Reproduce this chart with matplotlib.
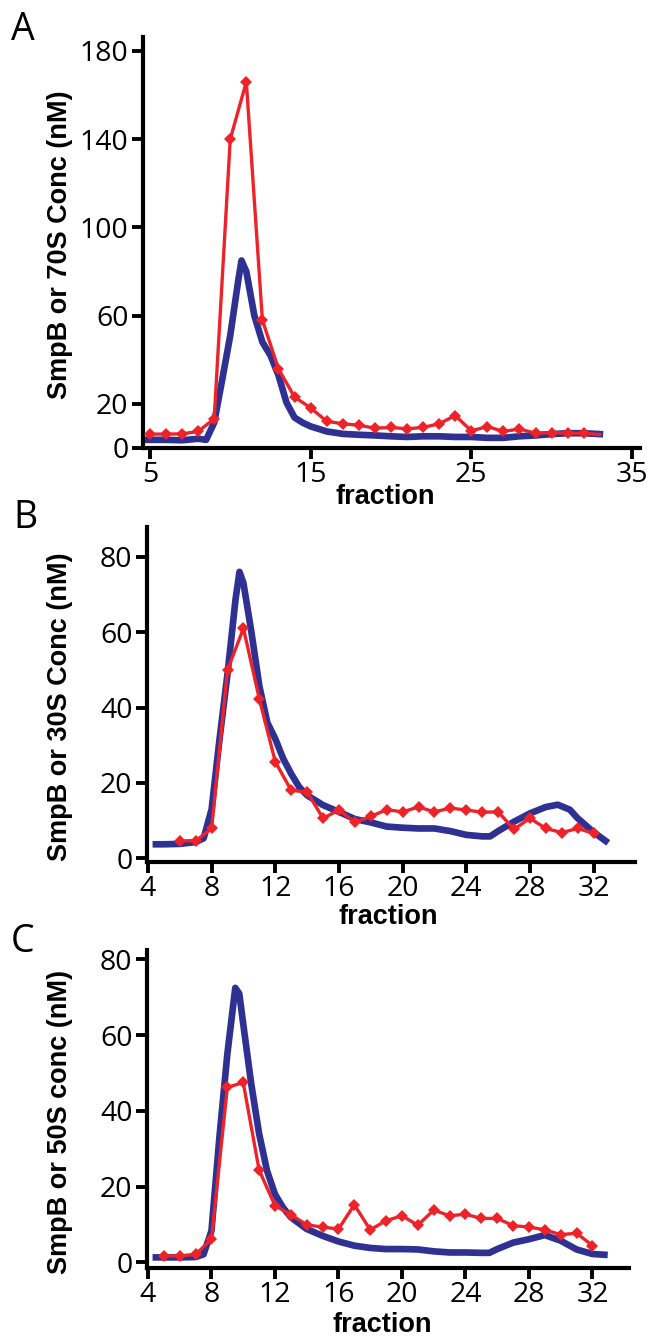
import matplotlib
matplotlib.use("Agg")
import matplotlib.pyplot as plt

W, H = 647, 1336

# ---- panel A : 70S ----
a_red_x = list(range(5, 34))
a_red_y = [6.3, 6.3, 6.4, 7.5, 13.2, 140, 166, 58, 35.9, 23.1, 18.2, 12.1, 11.0,
           10.3, 9.0, 9.3, 8.7, 9.3, 11.0, 14.7, 7.8, 9.7, 7.5, 8.6, 6.7, 7.0,
           6.7, 6.7, 6.1]
a_blue_x = [4.7, 6, 7, 8, 8.5, 9, 9.5, 10, 10.5, 10.7, 11, 11.5, 12, 12.5, 13,
            13.5, 14, 14.5, 15, 16, 17, 18, 19, 20, 21, 22, 23, 24, 25, 26, 27,
            28, 29, 30, 31, 32, 33]
a_blue_y = [3.7, 3.7, 3.5, 4.2, 3.7, 11.5, 31, 51, 76, 85, 80, 60, 48, 42, 33,
            20.6, 13.8, 11.5, 9.8, 7.5, 6.4, 6.0, 5.7, 5.3, 5.0, 5.3, 5.3, 5.0,
            5.0, 4.6, 4.6, 5.3, 5.7, 6.3, 6.7, 6.7, 6.3]

# ---- panel B : 30S ----
b_red_x = list(range(6, 33))
b_red_y = [4.6, 4.6, 7.9, 50, 61, 42.2, 25.6, 18.0, 17.6, 10.6, 12.8, 9.5, 11.1,
           12.9, 12.3, 13.6, 12.3, 13.3, 12.8, 12.2, 12.3, 7.7, 10.6, 7.9, 6.8,
           7.9, 6.6]
b_blue_x = [4.5, 5, 6, 7, 7.5, 8, 8.5, 9, 9.5, 9.75, 10, 10.5, 11, 11.5, 12,
            12.5, 13, 13.5, 14, 15, 16, 17, 18, 19, 20, 21, 22, 23, 24, 25,
            25.5, 26, 27, 28, 29, 29.75, 30.5, 31, 32, 32.75]
b_blue_y = [3.7, 3.7, 3.8, 4.3, 5.3, 13, 31.7, 49, 68.6, 76, 73, 60, 45.7, 36,
            31.7, 26.4, 22.4, 18.9, 16.7, 14.1, 12.3, 10.4, 9.5, 8.4, 8.1, 7.9,
            7.9, 7.2, 6.2, 5.8, 5.8, 7.2, 9.7, 11.9, 13.6, 14.2, 12.9, 10.6, 6.9,
            4.6]

# ---- panel C : 50S ----
c_red_x = list(range(5, 33))
c_red_y = [1.7, 1.7, 2.1, 6.1, 46.2, 47.5, 24.4, 15, 12.6, 9.9, 9.3, 8.8, 15.2,
           8.6, 11, 12.3, 9.8, 13.8, 12.3, 12.7, 11.6, 11.6, 9.7, 9.3, 8.6, 7.3,
           7.7, 4.4]
c_blue_x = [4.5, 5, 6, 7, 7.5, 8, 8.5, 9, 9.5, 9.75, 10, 10.5, 11, 11.5, 12,
            12.5, 13, 14, 15, 16, 17, 18, 19, 20, 21, 22, 23, 24, 25, 25.5, 26,
            27, 28, 29, 30, 31, 32, 32.75]
c_blue_y = [1.3, 1.3, 1.3, 1.4, 2.1, 8.3, 33, 55, 72.5, 71, 63, 47.3, 34, 24.2,
            18, 14.5, 11.9, 8.8, 7.0, 5.5, 4.4, 3.8, 3.5, 3.5, 3.4, 2.9, 2.6,
            2.6, 2.5, 2.5, 3.5, 5.2, 6.1, 7.2, 5.7, 3.4, 2.2, 2.0]

RED = "#ED2329"
BLUE = "#2E3192"
NUM_FONT = "Open Sans"
LAB_FONT = "Liberation Sans"

fig = plt.figure(figsize=(W / 100, H / 100), dpi=100)


def px_axes(l, t, r, b):
    return fig.add_axes([l / W, 1 - b / H, (r - l) / W, (b - t) / H])


def style(ax, xt, yt, xlim, ylim):
    for s in ["top", "right"]:
        ax.spines[s].set_visible(False)
    for s in ["left", "bottom"]:
        ax.spines[s].set_linewidth(3.0)
    ax.set_xlim(*xlim)
    ax.set_ylim(*ylim)
    ax.set_xticks(xt)
    ax.set_yticks(yt)
    ax.set_xticklabels([str(v) for v in xt], family=NUM_FONT, fontsize=20.5)
    ax.set_yticklabels([str(v) for v in yt], family=NUM_FONT, fontsize=20.5)
    ax.tick_params(axis="both", width=2.8, length=8)
    ax.tick_params(axis="x", pad=1)
    ax.tick_params(axis="y", pad=2.5)


def draw(ax, bx, by, rx, ry, skip_last=False):
    ax.plot(bx, by, color=BLUE, lw=4.8, solid_joinstyle="round", zorder=2)
    me = list(range(len(rx) - 1)) if skip_last else None
    ax.plot(rx, ry, color=RED, lw=2.4, marker="D", ms=6.2, mew=0,
            markevery=me, zorder=3)


def ftext(x, y, s, **kw):
    fig.text(x / W, 1 - y / H, s, **kw)


# panel A
axA = px_axes(143, 37, 640, 448)
draw(axA, a_blue_x, a_blue_y, a_red_x, a_red_y, skip_last=True)
style(axA, [5, 15, 25, 35], [0, 20, 60, 100, 140, 180], (4.57, 35.5), (0, 186.3))

# panel B
axB = px_axes(147, 527, 635, 862)
draw(axB, b_blue_x, b_blue_y, b_red_x, b_red_y)
style(axB, list(range(4, 33, 4)), [0, 20, 40, 60, 80], (3.94, 34.6), (-1, 87.9))

# panel C
axC = px_axes(147, 950, 629, 1268)
draw(axC, c_blue_x, c_blue_y, c_red_x, c_red_y)
style(axC, list(range(4, 33, 4)), [0, 20, 40, 60, 80], (3.94, 34.3), (-1.5, 82.5))

# axis labels
lab_kw = dict(fontsize=19.5, fontweight="bold", family=LAB_FONT,
              ha="center", va="center")
ftext(60, 245, "SmpB or 70S Conc (nM)", rotation=90, **lab_kw)
ftext(60, 707, "SmpB or 30S Conc (nM)", rotation=90, **lab_kw)
ftext(60, 1122, "SmpB or 50S conc (nM)", rotation=90, **lab_kw)
ftext(385, 497, "fraction", **lab_kw)
ftext(388, 917, "fraction", **lab_kw)
ftext(382, 1325, "fraction", **lab_kw)

# panel letters
let_kw = dict(fontsize=27, family=NUM_FONT, ha="left", va="baseline")
ftext(11, 40, "A", **let_kw)
ftext(13, 528, "B", **let_kw)
ftext(11, 952, "C", **let_kw)

fig.savefig("out.png", dpi=100)
